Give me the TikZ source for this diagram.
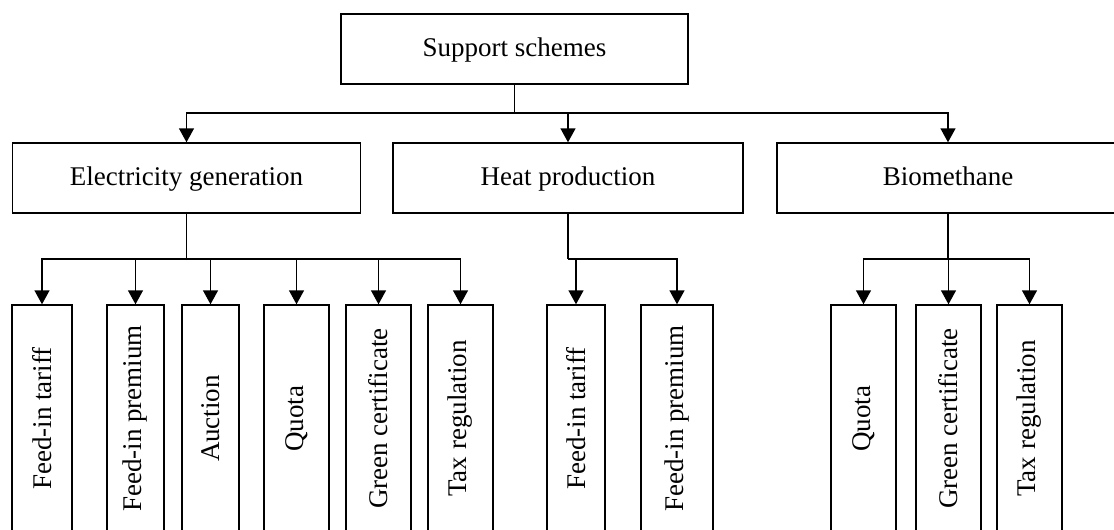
\documentclass[tikz,border=0pt]{standalone}
\usepackage{fontspec}
\setmainfont{Liberation Serif}
\usetikzlibrary{arrows.meta,positioning}
\tikzset{
    schemebox/.style = {draw, line width=1.4pt, minimum height=70pt, inner sep=0pt,
                        text height=20pt, text depth=5pt,
                        font=\fontsize{27}{32}\selectfont},
    toolbox/.style   = {draw, line width=1.4pt, rotate=90, minimum width=227pt,
                        inner sep=0pt, font=\fontsize{27}{32}\selectfont},
    feed/.style      = {line width=1.4pt},
    feedarrow/.style = {line width=1.4pt, -{Triangle[length=14pt,width=15pt]}}
}

\begin{document}
\begin{tikzpicture}[x=1pt, y=-1pt]

            \useasboundingbox (0,0) rectangle (1114,530);

            % Top and second level.
            \node[schemebox, minimum width=347pt] (support) at (514.5,49) {Support schemes};
            \node[schemebox, minimum width=348pt] (elec) at (186.5,178) {Electricity generation};
            \node[schemebox, minimum width=350pt] (heat) at (568,178) {Heat production};
            \node[schemebox, minimum width=342pt] (bio) at (948,178) {Biomethane};

            % Bus lines.
            \coordinate (busTop) at (support.south |- 0,113);
            \coordinate (busElec) at (elec.south |- 0,259);
            \coordinate (busHeat) at (heat.south |- 0,259);
            \coordinate (busBio) at (bio.south |- 0,259);

            \draw[feed] (support.south) -- (busTop);
            \foreach \n in {elec,heat,bio}
                \draw[feedarrow] (busTop) -| (\n.north);

            % Electricity generation instruments.
            \foreach \n/\x/\w/\t in {e1/42/60/Feed-in tariff, e2/135.5/57/Feed-in premium,
                                     e3/210.5/57/Auction, e4/296.5/65/Quota,
                                     e5/378.5/65/Green certificate, e6/460.5/65/Tax regulation}
                \node[toolbox, minimum height=\w pt] (\n) at (\x,418.5) {\t};

            % Heat production instruments.
            \foreach \n/\x/\w/\t in {h1/576/58/Feed-in tariff, h2/677/72/Feed-in premium}
                \node[toolbox, minimum height=\w pt] (\n) at (\x,418.5) {\t};

            % Biomethane instruments.
            \foreach \n/\x/\t in {b1/863.5/Quota, b2/948.5/Green certificate, b3/1029.5/Tax regulation}
                \node[toolbox, minimum height=65pt] (\n) at (\x,418.5) {\t};

            % Connectors to instruments.
            \draw[feed] (elec.south) -- (busElec);
            \foreach \n in {e1,e2,e3,e4,e5,e6}
                \draw[feedarrow] (busElec) -| (\n.east);

            \draw[feed] (heat.south) -- (busHeat);
            \foreach \n in {h1,h2}
                \draw[feedarrow] (busHeat) -| (\n.east);

            \draw[feed] (bio.south) -- (busBio);
            \foreach \n in {b1,b2,b3}
                \draw[feedarrow] (busBio) -| (\n.east);

\end{tikzpicture}
\end{document}
